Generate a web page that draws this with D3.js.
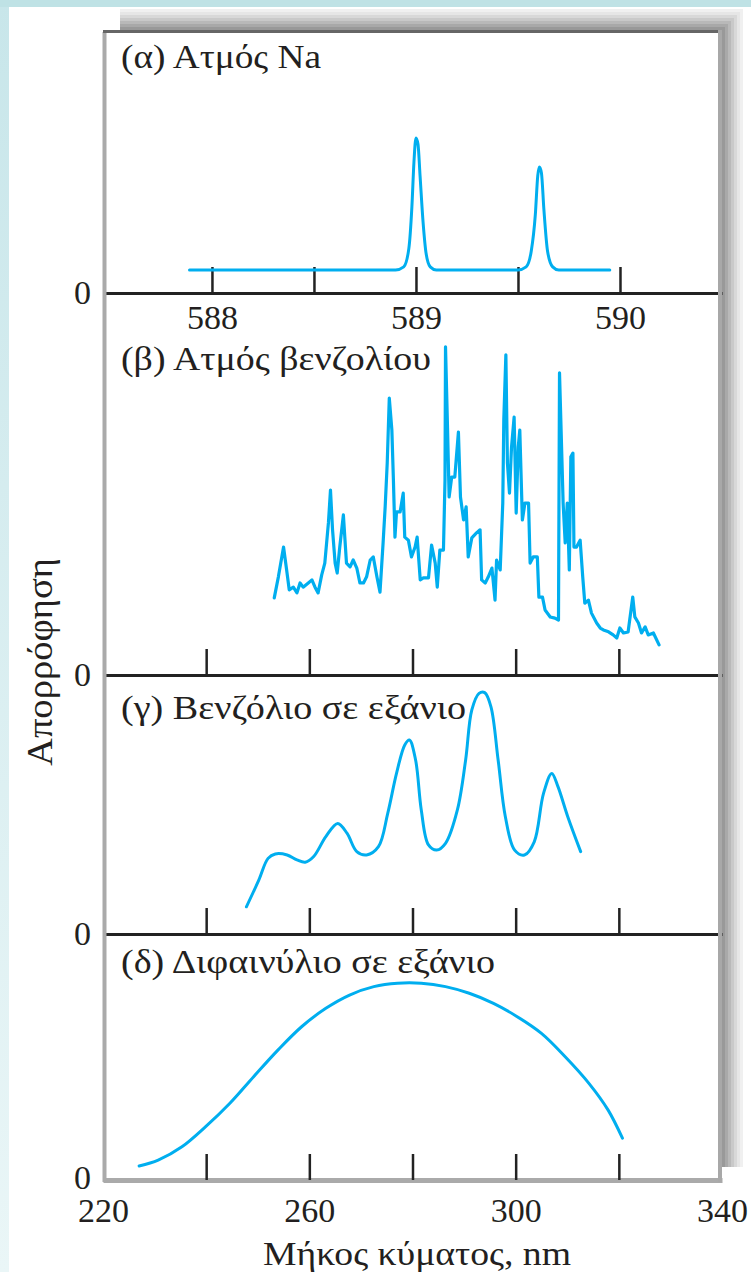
<!DOCTYPE html>
<html>
<head>
<meta charset="utf-8">
<script src="https://cdn.jsdelivr.net/npm/d3@7/dist/d3.min.js"></script>
<style>
  html, body { margin: 0; padding: 0; background: #ffffff; }
  svg { display: block; }
  .serif { font-family: 'Liberation Serif', 'Times New Roman', 'DejaVu Serif', serif; }
</style>
</head>
<body>
<script>
// ---------------- DATA ----------------
// Panel titles
const panelTitles = ["(α) Ατμός Na", "(β) Ατμός βενζολίου", "(γ) Βενζόλιο σε εξάνιο", "(δ) Διφαινύλιο σε εξάνιο"];
const yAxisTitle = "Απορρόφηση";
const xAxisTitle = "Μήκος κύματος, nm";

// Top scale (Na), nm
const naTickValues = [588, 588.5, 589, 589.5, 590];
const naTickLabels = ["588", "", "589", "", "590"];
// Bottom scale, nm
const nmTickValues = [240, 260, 280, 300, 320];
const nmLabelValues = [220, 260, 300, 340];
const zeroLabel = ["0"];

// (α) Na vapour
const naWavelength = [587.89, 588.90, 588.94, 588.965, 588.98, 588.99, 589.00, 589.01, 589.02, 589.035, 589.05, 589.07, 589.10,
  589.50, 589.54, 589.565, 589.585, 589.597, 589.605, 589.615, 589.627, 589.645, 589.67, 589.70, 589.95];
const naAbsorbance = [0.088, 0.088, 0.10, 0.17, 0.33, 0.50, 0.594, 0.57, 0.45, 0.27, 0.15, 0.10, 0.088,
  0.088, 0.10, 0.16, 0.30, 0.45, 0.483, 0.46, 0.32, 0.16, 0.10, 0.088, 0.088];

// (β) benzene vapour
const bvWavelength = [253.2, 254.0, 255.0, 255.6, 256.1, 256.9, 257.6, 258.2, 258.8, 259.8, 260.5, 261.1, 261.7, 262.4, 263.0,
  263.7, 264.1, 264.5, 265.0, 265.4, 265.9, 266.6, 267.2, 267.9, 268.5, 269.2, 269.8, 270.5, 271.1, 271.8, 272.4, 273.1, 273.7,
  274.3, 274.7, 275.1, 275.5, 276.0, 276.3, 276.6, 276.9, 277.6, 278.2, 278.5, 279.2, 279.8, 280.5, 280.9, 281.5, 282.1, 283.1,
  283.7, 284.4, 284.8, 285.3, 286.0, 286.3, 286.4, 286.8, 287.1, 287.6, 288.2, 288.9, 289.3, 289.9, 290.4, 290.8, 291.5, 292.4,
  293.1, 293.4, 294.1, 294.7, 295.4, 296.0, 296.3, 297.0, 297.5, 297.7, 298.1, 298.4, 298.8, 299.2, 299.7, 300.1, 300.5, 300.8,
  301.3, 301.8, 302.5, 302.8, 303.4, 304.2, 304.5, 305.2, 305.7, 306.7, 307.6, 308.3, 308.5, 308.9, 309.2, 309.6, 310.0, 310.4,
  310.7, 311.1, 311.3, 311.8, 312.5, 313.0, 313.4, 314.1, 314.7, 315.7, 316.4, 317.0, 318.0, 318.9, 319.6, 320.2, 320.9, 321.8,
  322.7, 323.1, 323.8, 324.4, 325.1, 325.7, 326.7, 327.8];
const bvAbsorbance = [0.202, 0.257, 0.335, 0.275, 0.223, 0.230, 0.215, 0.241, 0.230, 0.241, 0.249, 0.230, 0.215, 0.262, 0.293,
  0.398, 0.484, 0.380, 0.293, 0.267, 0.335, 0.419, 0.293, 0.283, 0.301, 0.280, 0.241, 0.241, 0.257, 0.301, 0.309, 0.257, 0.217,
  0.346, 0.440, 0.555, 0.725, 0.641, 0.510, 0.361, 0.427, 0.427, 0.476, 0.361, 0.353, 0.309, 0.335, 0.361, 0.249, 0.254, 0.254,
  0.340, 0.293, 0.230, 0.327, 0.327, 0.510, 0.859, 0.641, 0.466, 0.518, 0.518, 0.636, 0.466, 0.406, 0.440, 0.309, 0.359, 0.372,
  0.380, 0.249, 0.241, 0.257, 0.280, 0.196, 0.301, 0.275, 0.450, 0.668, 0.838, 0.555, 0.476, 0.597, 0.675, 0.424, 0.597, 0.641,
  0.406, 0.450, 0.450, 0.293, 0.309, 0.309, 0.204, 0.204, 0.170, 0.152, 0.149, 0.144, 0.791, 0.597, 0.450, 0.346, 0.450, 0.275,
  0.571, 0.581, 0.335, 0.335, 0.353, 0.257, 0.188, 0.196, 0.162, 0.136, 0.123, 0.118, 0.113, 0.105, 0.097, 0.123, 0.110, 0.113,
  0.204, 0.152, 0.136, 0.110, 0.126, 0.105, 0.110, 0.079];

// (γ) benzene in hexane
const bhWavelength = [247.8, 250.2, 252.0, 253.4, 255.7, 257.6, 259.2, 260.8, 263.2, 265.5, 267.3, 269.2, 271.1, 273.4, 275.2,
  276.9, 278.5, 279.4, 280.6, 281.7, 283.1, 284.7, 286.4, 288.7, 290.3, 291.5, 292.9, 294.0, 295.2, 296.6, 298.0, 299.8, 301.7,
  303.6, 305.4, 307.0, 308.2, 310.1, 312.6];
const bhAbsorbance = [0.105, 0.208, 0.292, 0.309, 0.305, 0.286, 0.277, 0.298, 0.376, 0.427, 0.389, 0.318, 0.305, 0.337, 0.466,
  0.620, 0.730, 0.749, 0.672, 0.479, 0.344, 0.324, 0.350, 0.479, 0.672, 0.865, 0.929, 0.932, 0.878, 0.672, 0.453, 0.324, 0.305,
  0.356, 0.543, 0.620, 0.569, 0.453, 0.318];

// (δ) biphenyl in hexane
const bpWavelength = [227.0, 230.7, 235.3, 239.9, 244.6, 249.2, 253.9, 258.5, 263.2, 267.8, 272.5, 277.1, 281.7, 286.4, 291.0,
  295.7, 300.3, 305.0, 309.6, 314.2, 317.9, 320.7];
const bpAbsorbance = [0.057, 0.081, 0.135, 0.217, 0.312, 0.420, 0.528, 0.623, 0.698, 0.752, 0.786, 0.800, 0.800, 0.786, 0.759,
  0.718, 0.664, 0.596, 0.501, 0.393, 0.285, 0.170];

// ---------------- LAYOUT ----------------
const W = 751, H = 1272;
const frame = { left: 103, right: 722, top: 32, bottom: 1180 };
const panelTop = [32, 293, 675, 934];
const panelBase = [293, 675, 934, 1180];
const labelBaselines = [68, 370, 719, 973];
const labelWidths = [200, 310, 345, 374];
const TEXT = "#231f20";
const BLUE = "#00aeef";
const FS = 34;

const svg = d3.select("body").append("svg").attr("width", W).attr("height", H);

// page background strips
const defs = svg.append("defs");
const lg = defs.append("linearGradient").attr("id", "leftStrip").attr("x1", 0).attr("y1", 0).attr("x2", 0).attr("y2", 1);
lg.append("stop").attr("offset", "0%").attr("stop-color", "#c8e6ea");
lg.append("stop").attr("offset", "100%").attr("stop-color", "#eaf6f7");
svg.append("rect").attr("width", W).attr("height", H).attr("fill", "#ffffff");
svg.append("rect").attr("x", 0).attr("y", 0).attr("width", 9).attr("height", H).attr("fill", "url(#leftStrip)");
svg.append("rect").attr("x", 0).attr("y", 0).attr("width", W).attr("height", 7).attr("fill", "#bfe2e5");

// shadow (stepped grey bands, up-right)
const shadeCols = ["#f0f0f0", "#e6e6e6", "#d8d8d8", "#c9c9c9", "#b9b9b9", "#a9a9a9", "#999999"];
shadeCols.forEach((c, i) => {
  svg.append("rect")
    .attr("x", 120)
    .attr("y", 9 + i * 3)
    .attr("width", (743 - i * 3) - 120)
    .attr("height", 1167 - (9 + i * 3))
    .attr("fill", c);
});

// white frame
svg.append("rect")
  .attr("x", frame.left).attr("y", frame.top)
  .attr("width", frame.right - frame.left).attr("height", frame.bottom - frame.top)
  .attr("fill", "#ffffff");

// scales
const xNa = d3.scaleLinear().domain([587.466, 590.5]).range([frame.left, frame.right]);
const xNm = d3.scaleLinear().domain([220, 340]).range([frame.left, frame.right]);
const yScales = panelTop.map((t, i) => d3.scaleLinear().domain([0, 1]).range([panelBase[i], t]));

// series
const series = [
  { x: xNa, wl: naWavelength, ab: naAbsorbance, curve: d3.curveMonotoneX, w: 3 },
  { x: xNm, wl: bvWavelength, ab: bvAbsorbance, curve: d3.curveLinear, w: 3.2 },
  { x: xNm, wl: bhWavelength, ab: bhAbsorbance, curve: d3.curveCatmullRom.alpha(0.5), w: 3 },
  { x: xNm, wl: bpWavelength, ab: bpAbsorbance, curve: d3.curveCatmullRom.alpha(0.5), w: 3 }
];

function styleText(sel, size) {
  sel.attr("fill", TEXT).attr("font-family", null).attr("class", "serif").attr("font-size", size);
}
function fitWidth(tx, target) {
  const len = tx.node().getComputedTextLength();
  if (Math.abs(len - target) > 4) {
    tx.attr("textLength", target).attr("lengthAdjust", "spacingAndGlyphs");
  }
}

// ticks (upwards, inside each panel)
series.forEach((s, i) => {
  const base = panelBase[i];
  const ax = (i === 0)
    ? d3.axisBottom(xNa).tickValues(naTickValues).tickSizeInner(-26).tickSizeOuter(0).tickPadding(12).tickFormat((d, k) => naTickLabels[k])
    : d3.axisBottom(xNm).tickValues(nmTickValues).tickSizeInner(-26).tickSizeOuter(0).tickFormat("");
  const g = svg.append("g").attr("transform", `translate(0,${base})`).call(ax);
  g.attr("font-family", null);
  g.select(".domain")
    .attr("stroke", i === 3 ? "#aaaaaa" : "#222222")
    .attr("stroke-width", i === 3 ? 5 : 3);
  g.selectAll(".tick line").attr("stroke", "#222222").attr("stroke-width", 2.5);
  styleText(g.selectAll(".tick text"), FS);
});

// bottom tick labels
const gLab = svg.append("g").attr("transform", `translate(0,${frame.bottom})`)
  .call(d3.axisBottom(xNm).tickValues(nmLabelValues).tickSize(0).tickPadding(18).tickFormat(d3.format("d")));
gLab.attr("font-family", null);
gLab.select(".domain").remove();
styleText(gLab.selectAll(".tick text"), FS);

// "0" labels on left of each baseline
yScales.forEach((ys, i) => {
  const g = svg.append("g").attr("transform", `translate(${frame.left},${i === 3 ? -2 : 0})`)
    .call(d3.axisLeft(ys).tickValues([0]).tickSize(0).tickPadding(12).tickFormat(() => zeroLabel[0]));
  g.attr("font-family", null);
  g.select(".domain").remove();
  styleText(g.selectAll(".tick text"), FS);
});

// frame lines: left, top, right
svg.append("line").attr("x1", frame.left + 1.5).attr("x2", frame.left + 1.5).attr("y1", frame.top).attr("y2", frame.bottom + 2)
  .attr("stroke", "#aaaaaa").attr("stroke-width", 4);
svg.append("line").attr("x1", frame.left).attr("x2", frame.right).attr("y1", frame.top - 0.5).attr("y2", frame.top - 0.5)
  .attr("stroke", "#666666").attr("stroke-width", 3);
svg.append("line").attr("x1", frame.right - 2).attr("x2", frame.right - 2).attr("y1", frame.top - 2).attr("y2", frame.bottom + 2)
  .attr("stroke", "#a8a8a8").attr("stroke-width", 4);

// spectra
series.forEach((s, i) => {
  const pts = s.wl.map((w, k) => [w, s.ab[k]]);
  const line = d3.line().x(d => s.x(d[0])).y(d => yScales[i](d[1])).curve(s.curve);
  svg.append("path").attr("d", line(pts))
    .attr("fill", "none").attr("stroke", BLUE).attr("stroke-width", s.w)
    .attr("stroke-linejoin", "round").attr("stroke-linecap", "round");
});

// panel titles
panelTitles.forEach((t, i) => {
  const tx = svg.append("text").attr("x", 121).attr("y", labelBaselines[i]).text(t);
  styleText(tx, FS);
  fitWidth(tx, labelWidths[i]);
});

// axis titles
const yt = svg.append("text")
  .attr("transform", "translate(52,662) rotate(-90)")
  .attr("text-anchor", "middle")
  .text(yAxisTitle);
styleText(yt, 36);
fitWidth(yt, 208);
const xt = svg.append("text")
  .attr("x", 417).attr("y", 1265)
  .attr("text-anchor", "middle")
  .text(xAxisTitle);
styleText(xt, FS);
fitWidth(xt, 308);
</script>
</body>
</html>
